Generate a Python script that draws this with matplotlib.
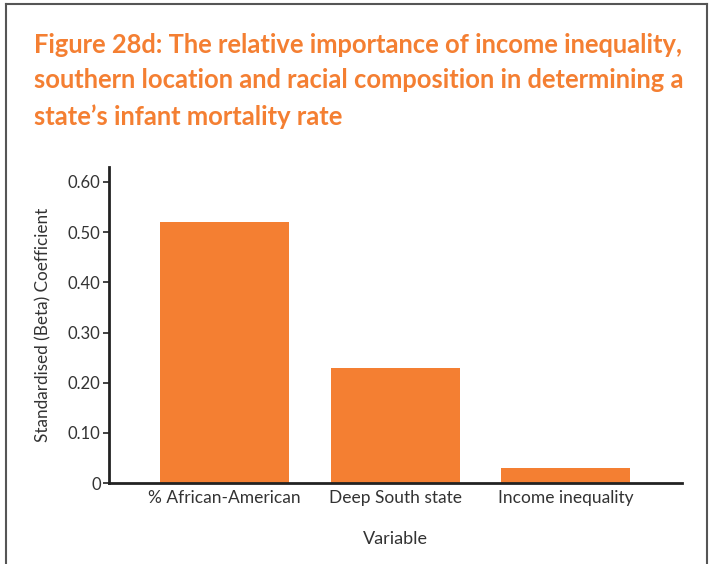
import numpy as np
import matplotlib.pyplot as plt
from matplotlib.lines import Line2D

plt.rcParams['font.family'] = ['Lato', 'DejaVu Sans']

TITLE = ("Figure 28d: The relative importance of income inequality,\n"
         "southern location and racial composition in determining a\n"
         "state\u2019s infant mortality rate")
categories = ["% African-American", "Deep South state", "Income inequality"]
beta = [0.52, 0.23, 0.03]
yticks = [0, 0.1, 0.2, 0.3, 0.4, 0.5, 0.6]
ytick_labels = ["0", "0.10", "0.20", "0.30", "0.40", "0.50", "0.60"]

ORANGE = "#F47F32"
TEXT = "#333333"

fig = plt.figure(figsize=(7.09, 5.64), dpi=100)
ax = fig.add_axes([0.1537, 0.1436, 0.8083, 0.5604])

x = np.arange(len(categories))
ax.bar(x, beta, width=0.755, color=ORANGE)

ax.set_xlim(-0.675, 2.68)
ax.set_ylim(0, 0.63)
ax.set_yticks(yticks)
ax.set_yticklabels(ytick_labels)
ax.set_xticks(x)
ax.set_xticklabels(categories)
ax.tick_params(axis='y', direction='out', length=4, width=1.2, colors='#222222',
               labelsize=12, labelcolor=TEXT, pad=2)
ax.tick_params(axis='x', length=0, labelsize=12.5, labelcolor=TEXT, pad=5)
for s in ['top', 'right']:
    ax.spines[s].set_visible(False)
for s in ['left', 'bottom']:
    ax.spines[s].set_linewidth(2)
    ax.spines[s].set_color('#222222')

ax.set_ylabel("Standardised (Beta) Coefficient", fontsize=12.3, color=TEXT, labelpad=12)
ax.set_xlabel("Variable", fontsize=13, color=TEXT, labelpad=18)

fig.text(0.048, 0.942, TITLE, ha='left', va='top', fontsize=18.4, fontweight='bold',
         color=ORANGE, linespacing=1.58)

# outer frame
frame_kw = dict(color='#555555', linewidth=1.5, transform=fig.transFigure)
fig.add_artist(Line2D([0.008, 0.997], [0.993, 0.993], **frame_kw))
fig.add_artist(Line2D([0.008, 0.008], [0.0, 0.993], **frame_kw))
fig.add_artist(Line2D([0.997, 0.997], [0.0, 0.993], **frame_kw))

plt.savefig("out.png", dpi=100)
plt.close()
